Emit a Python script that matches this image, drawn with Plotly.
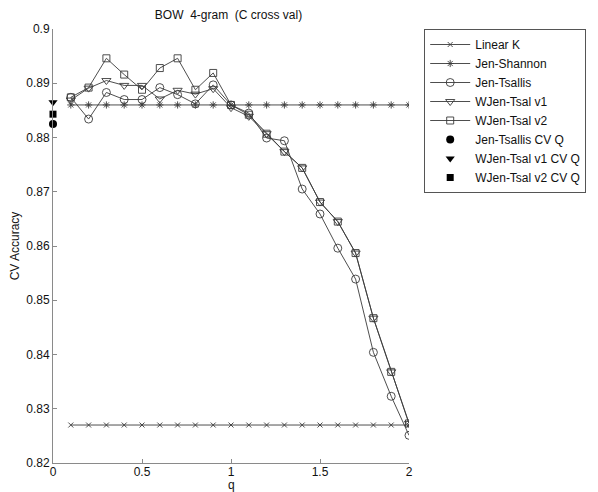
import plotly.graph_objects as go

q = [0.1, 0.2, 0.3, 0.4, 0.5, 0.6, 0.7, 0.8, 0.9, 1.0,
     1.1, 1.2, 1.3, 1.4, 1.5, 1.6, 1.7, 1.8, 1.9, 2.0]

linear_k = [0.827, 0.827, 0.827, 0.827, 0.827, 0.827, 0.827, 0.827, 0.827, 0.827,
            0.827, 0.827, 0.827, 0.827, 0.827, 0.827, 0.827, 0.827, 0.827, 0.827]
jen_shannon = [0.886, 0.886, 0.886, 0.886, 0.886, 0.886, 0.886, 0.886, 0.886, 0.886,
               0.886, 0.886, 0.886, 0.886, 0.886, 0.886, 0.886, 0.886, 0.886, 0.886]
jen_tsallis = [0.8874, 0.8834, 0.8883, 0.8870, 0.8870, 0.8892, 0.8879, 0.8862, 0.8897, 0.8860,
               0.8845, 0.8799, 0.8794, 0.8705, 0.8659, 0.8596, 0.8539, 0.8404, 0.8323, 0.8251]
wjen_v1 = [0.8869, 0.8891, 0.8905, 0.8896, 0.8896, 0.8871, 0.8887, 0.8880, 0.8890, 0.8855,
           0.8839, 0.8807, 0.8774, 0.8744, 0.8681, 0.8645, 0.8587, 0.8467, 0.8368, 0.8273]
wjen_v2 = [0.8874, 0.8892, 0.8946, 0.8916, 0.8888, 0.8928, 0.8946, 0.8888, 0.8919, 0.8860,
           0.8842, 0.8807, 0.8774, 0.8744, 0.8681, 0.8645, 0.8587, 0.8467, 0.8368, 0.8273]

cv_q = [0.0]
jen_tsallis_cv = [0.8825]
wjen_v1_cv = [0.8865]
wjen_v2_cv = [0.8843]

title_text = "BOW\u00a0 4-gram\u00a0 (C cross val)"
x_title = "q"
y_title = "CV Accuracy"

LINE = "#3a3a3a"
FONT = "Liberation Sans, Arial, sans-serif"

fig = go.Figure()

def line_trace(y, name, symbol, size):
    return go.Scatter(
        x=q, y=y, name=name, mode="lines+markers",
        line=dict(color=LINE, width=0.9),
        marker=dict(symbol=symbol, size=size, color=LINE,
                    line=dict(color=LINE, width=0.9)),
    )

fig.add_trace(line_trace(linear_k, "Linear K", "x-thin-open", 5))
fig.add_trace(line_trace(jen_shannon, "Jen-Shannon", "asterisk-open", 6))
fig.add_trace(line_trace(jen_tsallis, "Jen-Tsallis", "circle-open", 8))
fig.add_trace(line_trace(wjen_v1, "WJen-Tsal v1", "triangle-down-open", 8))
fig.add_trace(line_trace(wjen_v2, "WJen-Tsal v2", "square-open", 7))

def cv_trace(y, name, symbol, size):
    return go.Scatter(
        x=cv_q, y=y, name=name, mode="markers", cliponaxis=False,
        marker=dict(symbol=symbol, size=size, color="black",
                    line=dict(color="black", width=0)),
    )

fig.add_trace(cv_trace(jen_tsallis_cv, "Jen-Tsallis CV Q", "circle", 8))
fig.add_trace(cv_trace(wjen_v1_cv, "WJen-Tsal v1 CV Q", "triangle-down", 8))
fig.add_trace(cv_trace(wjen_v2_cv, "WJen-Tsal v2 CV Q", "square", 7))

axis_common = dict(
    showgrid=False, zeroline=False, showline=True, linecolor="#8a8a8a", linewidth=1,
    ticks="inside", ticklen=4, tickcolor="#8a8a8a", tickwidth=1,
    tickfont=dict(family=FONT, size=12, color="#111111"),
    automargin=False, mirror=False,
)

fig.update_layout(
    width=598, height=492,
    paper_bgcolor="white", plot_bgcolor="white",
    margin=dict(l=53, r=177, t=29, b=29, pad=0),
    font=dict(family=FONT, size=12, color="#111111"),
    title=dict(text=title_text, x=0.493, xref="paper", xanchor="center",
               y=1 - 15 / 492, yref="container", yanchor="middle",
               font=dict(family=FONT, size=12, color="#111111")),
    xaxis=dict(range=[0, 2], dtick=0.5, tick0=0, ticklabelstandoff=-2, **axis_common),
    yaxis=dict(range=[0.82, 0.9], dtick=0.01, tick0=0.82,
               title=dict(text=y_title, standoff=4, font=dict(family=FONT, size=12)),
               **axis_common),
    annotations=[dict(text=x_title, xref="paper", yref="paper", x=0.5, y=-0.0518,
                      xanchor="center", yanchor="middle", showarrow=False,
                      borderpad=0,
                      font=dict(family=FONT, size=12, color="#111111"))],
    showlegend=True,
    legend=dict(x=1.0427, xanchor="left", y=1.0, yanchor="top",
                bgcolor="white", bordercolor="#555555", borderwidth=1,
                font=dict(family=FONT, size=12, color="#111111"),
                traceorder="normal", itemwidth=40, tracegroupgap=0),
)

fig.write_html("out.html", config={"displayModeBar": False},
               post_script="document.body.style.margin='0';document.body.style.padding='0';")
